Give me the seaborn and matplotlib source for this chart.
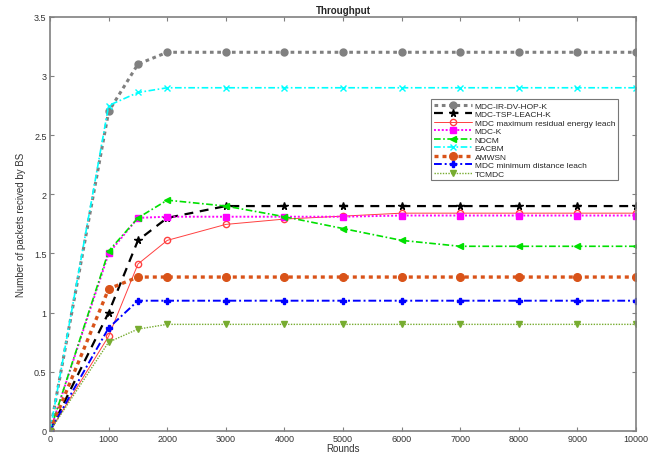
import matplotlib
matplotlib.use("Agg")
import matplotlib.pyplot as plt
import seaborn as sns
import pandas as pd

rounds = [0, 1000, 1500, 2000, 3000, 4000, 5000, 6000, 7000, 8000, 9000, 10000]

mdc_ir_dv_hop_k = [0, 2.70, 3.10, 3.20, 3.20, 3.20, 3.20, 3.20, 3.20, 3.20, 3.20, 3.20]
mdc_tsp_leach_k = [0, 1.00, 1.61, 1.80, 1.90, 1.90, 1.90, 1.90, 1.90, 1.90, 1.90, 1.90]
mdc_max_residual = [0, 0.80, 1.41, 1.61, 1.745, 1.79, 1.815, 1.84, 1.84, 1.84, 1.84, 1.84]
mdc_k = [0, 1.50, 1.80, 1.81, 1.81, 1.81, 1.81, 1.82, 1.82, 1.82, 1.82, 1.82]
ndcm = [0, 1.52, 1.80, 1.95, 1.90, 1.81, 1.71, 1.61, 1.56, 1.56, 1.56, 1.56]
eacbm = [0, 2.75, 2.86, 2.90, 2.90, 2.90, 2.90, 2.90, 2.90, 2.90, 2.90, 2.90]
amwsn = [0, 1.20, 1.30, 1.30, 1.30, 1.30, 1.30, 1.30, 1.30, 1.30, 1.30, 1.30]
mdc_min_distance = [0, 0.87, 1.10, 1.10, 1.10, 1.10, 1.10, 1.10, 1.10, 1.10, 1.10, 1.10]
tcmdc = [0, 0.75, 0.86, 0.90, 0.90, 0.90, 0.90, 0.90, 0.90, 0.90, 0.90, 0.90]

names = ["MDC-IR-DV-HOP-K", "MDC-TSP-LEACH-K", "MDC maximum residual energy leach",
         "MDC-K", "NDCM", "EACBM", "AMWSN", "MDC minimum distance leach", "TCMDC"]
series = [mdc_ir_dv_hop_k, mdc_tsp_leach_k, mdc_max_residual, mdc_k, ndcm, eacbm,
          amwsn, mdc_min_distance, tcmdc]

styles = [
    dict(color="#808080", ls=(0, (1.2, 1.2)), lw=2.2, marker="o", ms=5, mfc="#808080", mec="#808080"),
    dict(color="black", ls=(0, (4, 3)), lw=1.6, marker="*", ms=5.5, mfc="black", mec="black"),
    dict(color="#FF4040", ls="-", lw=0.7, marker="o", ms=4.5, mfc="none", mec="#FF4040"),
    dict(color="#FF00FF", ls=(0, (1, 1)), lw=1.4, marker="s", ms=4, mfc="#FF00FF", mec="#FF00FF"),
    dict(color="#00E000", ls=(0, (4, 1.5, 1, 1.5)), lw=1.2, marker="<", ms=4.5, mfc="#00E000", mec="#00E000"),
    dict(color="#00FFFF", ls=(0, (4, 1.5, 1, 1.5)), lw=1.2, marker="x", ms=4, mfc="#00FFFF", mec="#00FFFF"),
    dict(color="#D95319", ls=(0, (1.2, 1.2)), lw=2.4, marker="o", ms=5.5, mfc="#D95319", mec="#D95319"),
    dict(color="#0000FF", ls=(0, (4, 1.5, 1, 1.5)), lw=1.4, marker="P", ms=4.5, mfc="#0000FF", mec="#0000FF"),
    dict(color="#77AC30", ls=(0, (1, 1)), lw=1.0, marker="v", ms=4.5, mfc="#77AC30", mec="#77AC30"),
]

sns.set_style("white")
plt.rcParams["font.family"] = ["Liberation Sans", "DejaVu Sans"]

fig = plt.figure(figsize=(6.59, 4.56), dpi=100)
ax = fig.add_axes([0.076, 0.053, 0.889, 0.908])

for name, vals, st in zip(names, series, styles):
    df = pd.DataFrame({"Rounds": rounds, "value": vals})
    sns.lineplot(data=df, x="Rounds", y="value", ax=ax, label=name,
                 color=st["color"], linestyle=st["ls"], linewidth=st["lw"],
                 marker=st["marker"], markersize=st["ms"],
                 markerfacecolor=st["mfc"], markeredgecolor=st["mec"],
                 markeredgewidth=1.0)

ax.set_xlim(0, 10000)
ax.set_ylim(0, 3.5)
ax.set_xticks(range(0, 10001, 1000))
ax.set_yticks([0, 0.5, 1, 1.5, 2, 2.5, 3, 3.5])
ax.set_yticklabels(["0", "0.5", "1", "1.5", "2", "2.5", "3", "3.5"])
ax.tick_params(direction="in", length=3, width=0.8, color="#808080",
               labelsize=6.5, labelcolor="#333333", top=True, right=True,
               bottom=True, left=True, pad=2.5)
for sp in ax.spines.values():
    sp.set_color("#808080")
    sp.set_linewidth(1.2)

ax.set_xlabel("Rounds", fontsize=7, color="#333333", labelpad=0)
ax.set_ylabel("Number of packets recived by BS", fontsize=7, color="#333333", labelpad=6)
ax.set_title("Throughput", fontsize=7, fontweight="bold", pad=3)

leg = ax.legend(loc="upper left", bbox_to_anchor=(0.65, 0.802), fontsize=6.0,
                frameon=True, fancybox=False, edgecolor="#555555",
                handlelength=4.6, borderpad=0.35, labelspacing=0.08, handletextpad=0.3,
                borderaxespad=0)
leg.get_frame().set_linewidth(0.8)

fig.savefig("out.png", dpi=100)
